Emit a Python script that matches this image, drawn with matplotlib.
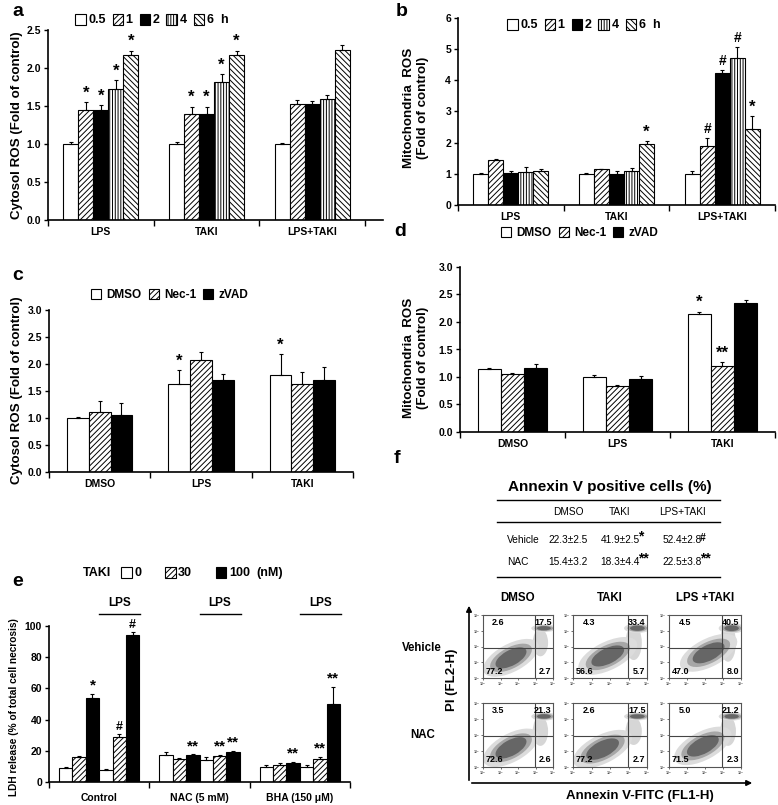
import matplotlib
matplotlib.use("Agg")
import matplotlib.pyplot as plt
from matplotlib.patches import Patch, Ellipse, FancyArrowPatch
from matplotlib.lines import Line2D
import numpy as np

plt.rcParams['font.family'] = ['Liberation Sans', 'DejaVu Sans']
plt.rcParams['font.weight'] = 'bold'
plt.rcParams['hatch.linewidth'] = 0.7

W, H = 778, 805

# ---- data -------------------------------------------------------------
time_labels = ['0.5', '1', '2', '4', '6  h']
ab_groups = ['LPS', 'TAKI', 'LPS+TAKI']

# rows = time points, columns = groups
a_vals = [[1.00, 1.00, 1.00], [1.45, 1.39, 1.52], [1.45, 1.39, 1.52],
          [1.73, 1.81, 1.59], [2.17, 2.17, 2.24]]
a_errs = [[0.03, 0.02, 0.01], [0.10, 0.10, 0.06], [0.06, 0.10, 0.05],
          [0.11, 0.11, 0.06], [0.06, 0.06, 0.06]]
a_marks = [['', '', ''], ['*', '*', ''], ['*', '*', ''],
           ['*', '*', ''], ['*', '*', '']]

b_vals = [[1.00, 1.00, 1.00], [1.44, 1.14, 1.90], [1.03, 1.00, 4.24],
          [1.05, 1.08, 4.71], [1.08, 1.97, 2.44]]
b_errs = [[0.03, 0.04, 0.10], [0.05, 0.02, 0.25], [0.07, 0.08, 0.10],
          [0.18, 0.10, 0.37], [0.06, 0.08, 0.42]]
b_marks = [['', '', ''], ['', '', '#'], ['', '', '#'],
           ['', '', '#'], ['', '*', '*']]

inhib_labels = ['DMSO', 'Nec-1', 'zVAD']
cd_groups = ['DMSO', 'LPS', 'TAKI']
c_vals = [[1.00, 1.63, 1.79], [1.11, 2.08, 1.63], [1.05, 1.70, 1.70]]
c_errs = [[0.01, 0.26, 0.40], [0.20, 0.15, 0.22], [0.22, 0.12, 0.25]]
c_marks = [['', '*', '*'], ['', '', ''], ['', '', '']]

d_vals = [[1.15, 1.00, 2.14], [1.05, 0.84, 1.20], [1.17, 0.96, 2.34]]
d_errs = [[0.01, 0.04, 0.05], [0.02, 0.02, 0.07], [0.06, 0.05, 0.06]]
d_marks = [['', '', '*'], ['', '', '**'], ['', '', '']]

e_groups = ['Control', 'NAC (5 mM)', 'BHA (150 μM)']
taki_doses = ['0', '30', '100']
# rows = groups, columns = bars (0, 30, 100 nM, then 0, 30, 100 nM + LPS)
e_vals = [[9, 16, 54, 8, 29, 94], [17, 15, 17, 14, 16.5, 19],
          [9.5, 11, 12.5, 9.5, 14.5, 50]]
e_errs = [[0.5, 0.8, 2.3, 0.5, 1.5, 2.3], [2.0, 0.7, 0.8, 2.0, 0.7, 0.8],
          [1.2, 1.0, 0.5, 1.3, 1.5, 11]]
e_marks = [['', '', '*', '', '#', '#'], ['', '', '**', '', '**', '**'],
           ['', '', '**', '', '**', '**']]

table_cols = ['DMSO', 'TAKI', 'LPS+TAKI']
table_rows = ['Vehicle', 'NAC']
table_vals = [['22.3±2.5', '41.9±2.5', '52.4±2.8'],
              ['15.4±3.2', '18.3±4.4', '22.5±3.8']]
table_marks = [['', '*', '#'], ['', '**', '**']]

flow_cols = ['DMSO', 'TAKI', 'LPS +TAKI']
flow_rows = ['Vehicle', 'NAC']
flow_ul = [[2.6, 4.3, 4.5], [3.5, 2.6, 5.0]]
flow_ur = [[17.5, 33.4, 40.5], [21.3, 17.5, 21.2]]
flow_ll = [[77.2, 56.6, 47.0], [72.6, 77.2, 71.5]]
flow_lr = [[2.7, 5.7, 8.0], [2.6, 2.7, 2.3]]
# rough centre of the live-cell cloud in each dot plot (fraction of box)
flow_main_x = [[0.40, 0.47, 0.55], [0.40, 0.40, 0.47]]
flow_main_y = [[0.32, 0.35, 0.40], [0.30, 0.28, 0.33]]

# ---- helpers ----------------------------------------------------------
fig = plt.figure(figsize=(W / 100, H / 100), dpi=100)


def px_axes(x0, y0, x1, y1):
    return fig.add_axes([x0 / W, 1 - y1 / H, (x1 - x0) / W, (y1 - y0) / H])


def fx(x):
    return x / W


def fy(y):
    return 1 - y / H


time_styles = [('white', ''), ('white', '//////'), ('black', ''),
               ('white', '||||||'), ('white', '\\\\\\\\\\\\')]
inhib_styles = [('white', ''), ('white', '//////'), ('black', '')]


def bar_panel(ax, groups, vals, errs, marks, styles, width, xmax,
              ymax, ystep, fmt, star_size=12):
    n = len(vals)
    x = np.arange(len(groups))
    for i in range(n):
        pos = x + (i - (n - 1) / 2) * width
        fc, hatch = styles[i]
        ax.bar(pos, vals[i], width, color=fc, edgecolor='black',
               hatch=hatch, linewidth=0.8, zorder=2)
        ax.errorbar(pos, vals[i], yerr=[np.zeros(len(groups)), errs[i]],
                    fmt='none', ecolor='black', elinewidth=0.8, capsize=1.5,
                    capthick=0.8, zorder=3)
        for j, m in enumerate(marks[i]):
            if m:
                top = vals[i][j] + errs[i][j]
                size = star_size if '*' in m else star_size - 2
                ax.text(pos[j], top + ymax * 0.008, m, ha='center',
                        va='bottom', fontsize=size, fontweight='bold')
    ax.set_xlim(-0.5, xmax)
    ax.set_ylim(0, ymax)
    ax.set_yticks(np.arange(0, ymax + ystep / 2, ystep))
    ax.set_yticklabels([fmt.format(v) for v in
                        np.arange(0, ymax + ystep / 2, ystep)])
    ax.set_xticks(np.arange(len(groups) + 1) - 0.5)
    ax.set_xticklabels([])
    ax.set_xticks(x, minor=True)
    ax.set_xticklabels(groups, minor=True)
    ax.tick_params(axis='x', which='minor', length=0, pad=5, labelsize=7.5)
    ax.tick_params(axis='x', which='major', length=4, width=1)
    ax.tick_params(axis='y', length=3, width=1, labelsize=7.5, pad=2)
    for s in ('top', 'right'):
        ax.spines[s].set_visible(False)
    for s in ('left', 'bottom'):
        ax.spines[s].set_linewidth(1.2)


def legend(labels, styles, x, y, spacing=0.8, size=9, textpad=0.2):
    handles = [Patch(facecolor=fc, edgecolor='black', hatch=h, linewidth=0.8)
               for fc, h in styles]
    fig.legend(handles, labels, loc='center left',
               bbox_to_anchor=(fx(x), fy(y)), ncol=len(labels),
               frameon=False, handlelength=0.85, handleheight=1.0,
               handletextpad=textpad, columnspacing=spacing, borderpad=0,
               borderaxespad=0, prop={'weight': 'bold', 'size': size})


# ---- panel a ----------------------------------------------------------
ax = px_axes(48, 30, 383, 220)
bar_panel(ax, ab_groups, a_vals, a_errs, a_marks, time_styles, 0.142, 2.67,
          2.5, 0.5, '{:.1f}')
legend(time_labels, time_styles, 75, 20, spacing=0.55)
fig.text(fx(17), fy(125), 'Cytosol ROS (Fold of control)', rotation=90,
         ha='center', va='center', fontsize=9.6)

# ---- panel b ----------------------------------------------------------
ax = px_axes(458, 18, 775, 205)
bar_panel(ax, ab_groups, b_vals, b_errs, b_marks, time_styles, 0.142, 2.5,
          6, 1, '{:.0f}')
legend(time_labels, time_styles, 507, 25, spacing=0.55)
fig.text(fx(416), fy(108), 'Mitochondria  ROS\n(Fold of control)',
         rotation=90, ha='center', va='center', fontsize=9.6,
         multialignment='center')

# ---- panel c ----------------------------------------------------------
ax = px_axes(49, 310, 353, 472)
bar_panel(ax, cd_groups, c_vals, c_errs, c_marks, inhib_styles, 0.215, 2.5,
          3.0, 0.5, '{:.1f}')
legend(inhib_labels, inhib_styles, 91, 295, spacing=0.6, size=8.5,
       textpad=0.45)
fig.text(fx(17), fy(390), 'Cytosol ROS (Fold of control)', rotation=90,
         ha='center', va='center', fontsize=9.6)

# ---- panel d ----------------------------------------------------------
ax = px_axes(460, 267, 775, 432)
bar_panel(ax, cd_groups, d_vals, d_errs, d_marks, inhib_styles, 0.22, 2.5,
          3.0, 0.5, '{:.1f}')
legend(inhib_labels, inhib_styles, 501, 233, spacing=0.6, size=8.5,
       textpad=0.45)
fig.text(fx(416), fy(358), 'Mitochondria  ROS\n(Fold of control)',
         rotation=90, ha='center', va='center', fontsize=9.6,
         multialignment='center')

# ---- panel e ----------------------------------------------------------
ax = px_axes(49, 626, 350, 782)
e_series = [list(col) for col in zip(*e_vals)]
e_series_err = [list(col) for col in zip(*e_errs)]
e_series_marks = [list(col) for col in zip(*e_marks)]
e_styles = inhib_styles + inhib_styles
bar_panel(ax, e_groups, e_series, e_series_err, e_series_marks, e_styles,
          0.133, 2.5, 100, 20, '{:.0f}', star_size=11)
ax.tick_params(axis='x', which='minor', pad=8)
for j in range(len(e_groups)):
    x0, x1 = j + 0.0, j + 0.41
    ax.plot([x0, x1], [108, 108], color='black', lw=1, clip_on=False)
    ax.text((x0 + x1) / 2, 111, 'LPS', ha='center', va='bottom',
            fontsize=8.5)
legend(taki_doses, inhib_styles, 121, 573, spacing=1.9, size=9)
fig.text(fx(83), fy(573), 'TAKI', ha='left', va='center', fontsize=9)
fig.text(fx(256), fy(573), '(nM)', ha='left', va='center', fontsize=9)
fig.text(fx(14), fy(707), 'LDH release (% of total cell necrosis)',
         rotation=90, ha='center', va='center', fontsize=7.3)

# ---- panel f : table --------------------------------------------------
fig.text(fx(610), fy(487), 'Annexin V positive cells (%)', ha='center',
         va='center', fontsize=11)
for yy in (500, 522, 577):
    fig.add_artist(Line2D([fx(497), fx(720)], [fy(yy), fy(yy)],
                          color='black', lw=1))
col_x = [568, 620, 682]
for cx, name in zip(col_x, table_cols):
    fig.text(fx(cx), fy(512), name, ha='center', va='center', fontsize=7.3,
             fontweight='normal')
for r, (ry, rname) in enumerate(zip((540, 562), table_rows)):
    fig.text(fx(507), fy(ry), rname, ha='left', va='center', fontsize=7.3,
             fontweight='normal')
    for c, cx in enumerate(col_x):
        fig.text(fx(cx), fy(ry), table_vals[r][c], ha='center',
                 va='center', fontsize=7.3, fontweight='normal')
        if table_marks[r][c]:
            star = '*' in table_marks[r][c]
            fig.text(fx(cx + 18), fy(ry + 3), table_marks[r][c], ha='left',
                     va='bottom', fontsize=10 if star else 7.5)

# ---- panel f : dot plots ----------------------------------------------
box_x = [(483, 553), (573, 647), (669, 741)]
box_y = [(615, 678), (703, 767)]
cloud = [(1.8, '#dcdcdc'), (1.35, '#a6a6a6'), (1.0, '#666666')]
for r in range(2):
    for c in range(3):
        ax = px_axes(box_x[c][0], box_y[r][0], box_x[c][1], box_y[r][1])
        ax.set_xlim(0, 1)
        ax.set_ylim(0, 1)
        mx, my = flow_main_x[r][c], flow_main_y[r][c]
        ur = flow_ur[r][c] / 40.0
        # spread of dying cells up the right-hand column
        ax.add_patch(Ellipse((0.82, 0.56), 0.22, 0.30 + 0.3 * ur,
                             color='#d6d6d6', lw=0))
        for scale, col in cloud:
            ax.add_patch(Ellipse((mx, my), 0.5 * scale, 0.24 * scale,
                                 angle=32, color=col, lw=0))
            ax.add_patch(Ellipse((0.87, 0.79), 0.2 * scale,
                                 (0.05 + 0.04 * ur) * scale,
                                 color=col, lw=0))
        ax.axvline(0.74, color='#444444', lw=0.8)
        ax.axhline(0.48, color='#444444', lw=0.8)
        for s in ax.spines.values():
            s.set_color('#555555')
            s.set_linewidth(0.8)
        ticks = [0.0, 0.25, 0.5, 0.75, 1.0]
        dec = ['10$^0$', '10$^1$', '10$^2$', '10$^3$', '10$^4$']
        ax.set_xticks(ticks)
        ax.set_yticks(ticks)
        ax.set_xticklabels(dec)
        ax.set_yticklabels(dec)
        ax.tick_params(length=1.5, width=0.6, labelsize=2.5, pad=0.5,
                       colors='#555555')
        kw = dict(fontsize=6.5, fontweight='bold', transform=ax.transAxes)
        ax.text(0.13, 0.88, f'{flow_ul[r][c]:.1f}', ha='left', va='center', **kw)
        ax.text(0.98, 0.88, f'{flow_ur[r][c]:.1f}', ha='right', va='center', **kw)
        ax.text(0.04, 0.11, f'{flow_ll[r][c]:.1f}', ha='left', va='center', **kw)
        ax.text(0.97, 0.11, f'{flow_lr[r][c]:.1f}', ha='right', va='center', **kw)

for cx, name in zip((518, 610, 705), flow_cols):
    fig.text(fx(cx), fy(598), name, ha='center', va='center', fontsize=8.3)
fig.text(fx(422), fy(648), 'Vehicle', ha='center', va='center', fontsize=8.3)
fig.text(fx(423), fy(735), 'NAC', ha='center', va='center', fontsize=8.3)
fig.add_artist(FancyArrowPatch((fx(469), fy(783)), (fx(469), fy(603)),
                               transform=fig.transFigure, arrowstyle='-|>',
                               mutation_scale=8, lw=1.2, color='black'))
fig.add_artist(FancyArrowPatch((fx(469), fy(783)), (fx(755), fy(783)),
                               transform=fig.transFigure, arrowstyle='-|>',
                               mutation_scale=8, lw=1.2, color='black'))
fig.text(fx(452), fy(680), 'PI (FL2-H)', rotation=90, ha='center',
         va='center', fontsize=9.5)
fig.text(fx(640), fy(796), 'Annexin V-FITC (FL1-H)', ha='center',
         va='center', fontsize=9.5)

# ---- panel letters ----------------------------------------------------
for letter, x, y in (('a', 18, 12), ('b', 402, 12), ('c', 18, 276),
                     ('d', 400, 232), ('e', 18, 582), ('f', 397, 458)):
    fig.text(fx(x), fy(y), letter, ha='center', va='center', fontsize=14)

fig.savefig('out.png', dpi=100)
